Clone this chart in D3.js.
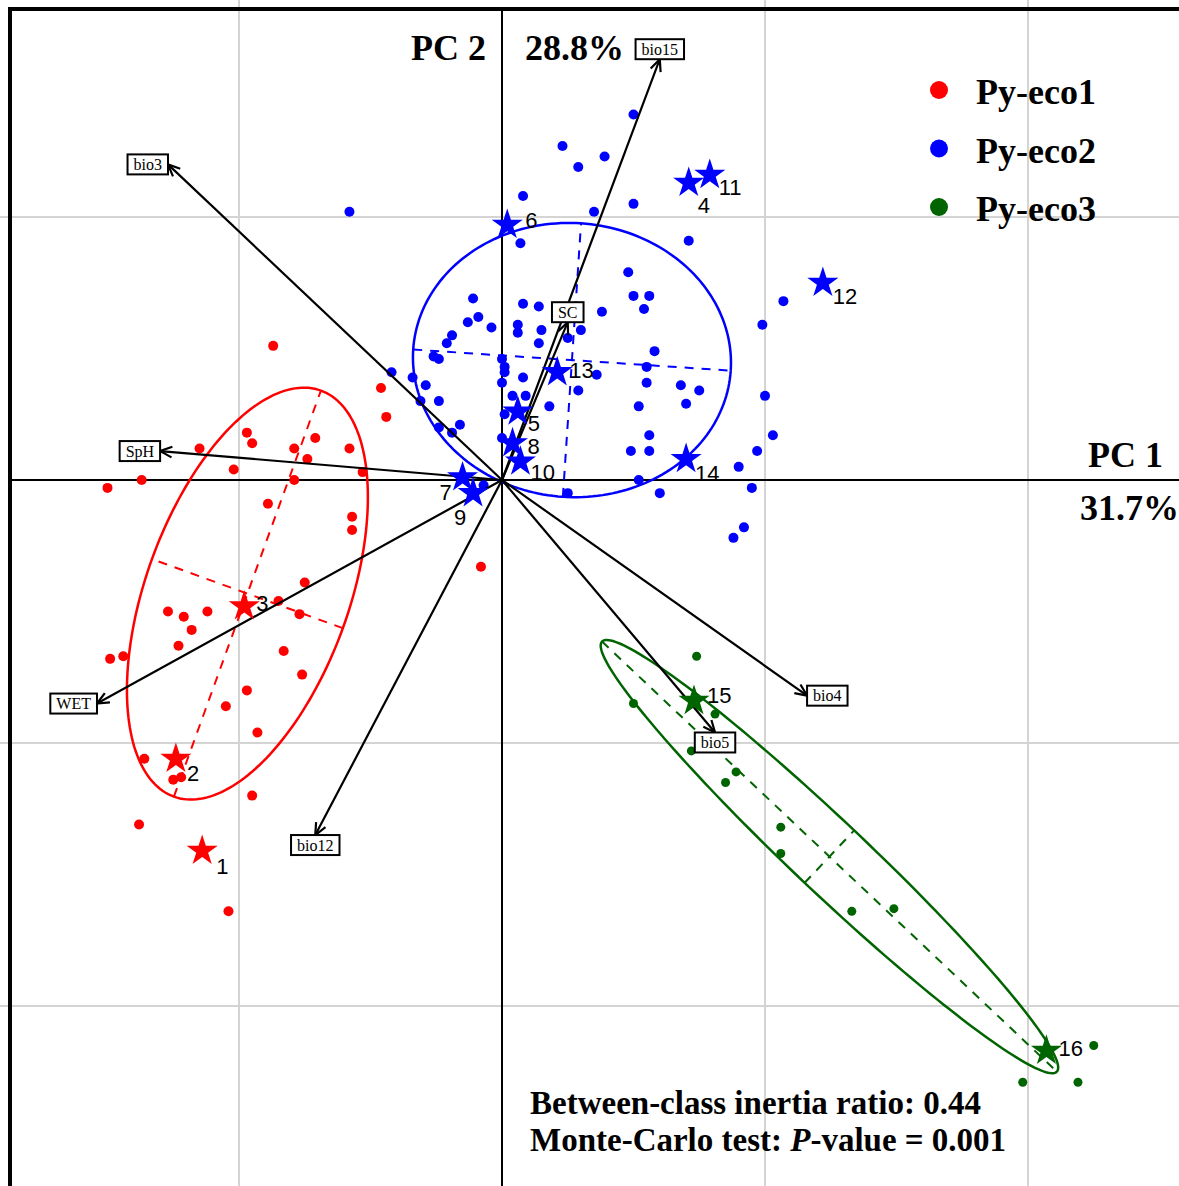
<!DOCTYPE html>
<html>
<head>
  <meta charset="utf-8">
  <title>Between-class PCA</title>
  <style>
    body { margin: 0; background: #fff; }
    svg { display: block; }
  </style>
</head>
<body>
  <svg width="1179" height="1186"></svg>
  <script src="https://d3js.org/d3.v7.min.js"></script>
  <script>
    // ---- data (PC scores, one grid step = 1 unit) ----
    var groups = ["Py-eco1", "Py-eco2", "Py-eco3"];
    var groupColors = ["#ff0000", "#0000ff", "#006400"];

    var eco1Pts = [[-0.44,0.24],[-0.97,0.18],[-0.95,0.14],[-0.71,0.16],[-0.79,0.12],[-0.58,0.12],[-1.15,0.12],
      [-0.74,0.08],[-1.02,0.04],[-0.53,0.03],[-0.79,0.00],[-1.37,0.00],[-1.50,-0.03],[-0.89,-0.09],[-0.57,-0.14],
      [-0.57,-0.19],[-0.75,-0.39],[-0.85,-0.46],[-0.77,-0.51],[-1.27,-0.50],[-1.21,-0.52],[-1.12,-0.50],[-1.18,-0.57],
      [-1.23,-0.63],[-0.83,-0.65],[-1.44,-0.67],[-1.49,-0.68],[-0.76,-0.74],[-0.97,-0.80],[-1.05,-0.86],[-0.93,-0.96],
      [-1.36,-1.06],[-1.25,-1.14],[-1.22,-1.13],[-0.87,0.51],[-0.46,0.35],[-0.95,-1.20],[-1.38,-1.31],[-1.04,-1.64],
      [-0.08,-0.33]];

    var eco2Pts = [[0.50,1.39],[0.23,1.27],[0.39,1.23],[0.29,1.19],[0.08,1.08],[0.35,1.02],[0.50,1.05],[0.07,0.90],
      [0.71,0.91],[0.48,0.79],[0.50,0.70],[0.56,0.70],[0.54,0.65],[1.07,0.68],[0.99,0.59],[-0.58,1.02],[-0.42,0.41],
      [-0.11,0.69],[0.08,0.67],[0.14,0.66],[-0.09,0.62],[-0.13,0.60],[-0.04,0.58],[0.06,0.59],[0.06,0.56],[0.15,0.57],
      [0.30,0.57],[0.38,0.64],[-0.19,0.55],[-0.21,0.52],[0.14,0.52],[0.25,0.54],[0.58,0.49],[-0.26,0.47],[-0.24,0.46],
      [0.00,0.46],[0.01,0.43],[0.01,0.41],[0.08,0.39],[0.00,0.37],[0.55,0.43],[0.36,0.40],[0.29,0.34],[0.55,0.37],
      [0.68,0.36],[0.75,0.34],[0.70,0.29],[0.52,0.28],[1.00,0.32],[-0.34,0.39],[-0.29,0.36],[-0.31,0.30],[-0.24,0.30],
      [0.18,0.28],[0.04,0.32],[0.09,0.32],[0.01,0.25],[-0.24,0.20],[-0.16,0.21],[-0.19,0.18],[0.00,0.16],[0.56,0.17],
      [0.49,0.11],[0.56,0.11],[1.03,0.17],[0.97,0.11],[0.90,0.05],[0.52,0.00],[0.60,-0.05],[0.25,-0.05],[0.95,-0.03],
      [-0.07,-0.02],[0.92,-0.18],[0.88,-0.22]];

    var eco3Pts = [[0.74,-0.67],[0.50,-0.85],[0.81,-0.89],[0.72,-1.03],[0.89,-1.11],[0.85,-1.15],[1.06,-1.32],
      [1.06,-1.42],[1.33,-1.64],[1.49,-1.63],[2.25,-2.15],[1.98,-2.29],[2.19,-2.29]];

    // numbered populations (stars)
    var popNames = ["1","2","3","4","5","6","7","8","9","10","11","12","13","14","15","16"];
    var popGroup = [0,0,0,1,1,1,1,1,1,1,1,1,1,1,2,2];
    var popX = [-1.14,-1.24,-0.98,0.71,0.06,0.02,-0.15,0.04,-0.11,0.07,0.79,1.22,0.21,0.70,0.73,2.07];
    var popY = [-1.41,-1.06,-0.48,1.13,0.26,0.97,0.01,0.14,-0.05,0.07,1.16,0.75,0.41,0.08,-0.84,-2.17];

    // class ellipses: centre, semi axes, angle of major axis (deg)
    var ellCx = [-0.968, 0.266, 1.245];
    var ellCy = [-0.432, 0.456, -1.432];
    var ellA = [0.821, 0.605, 1.19];
    var ellB = [0.386, 0.521, 0.137];
    var ellAngle = [70.1, -3.8, -43.4];

    // environmental variable arrows
    var varNames = ["bio15","bio3","SpH","WET","bio12","bio4","bio5","SC"];
    var varX = [0.60,-1.27,-1.30,-1.54,-0.71,1.16,0.81,0.25];
    var varY = [1.60,1.20,0.11,-0.85,-1.35,-0.82,-0.96,0.60];

    var gridX = [-1, 1, 2];
    var gridY = [-2, -1, 1];

    var svg = d3.select("svg"),
      width = +svg.attr("width"),
      height = +svg.attr("height");

    var x = d3.scaleLinear().domain([-1, 2]).range([239, 1028]);
    var y = d3.scaleLinear().domain([-2, 1]).range([1006, 217]);

    // grid
    svg.append("g").selectAll("line").data(gridX).enter().append("line")
      .attr("x1", x).attr("x2", x).attr("y1", 0).attr("y2", height)
      .attr("stroke", "#d4d4d4").attr("stroke-width", 2);
    svg.append("g").selectAll("line").data(gridY).enter().append("line")
      .attr("y1", y).attr("y2", y).attr("x1", 0).attr("x2", width)
      .attr("stroke", "#d4d4d4").attr("stroke-width", 2);

    // axes through origin
    svg.append("line").attr("x1", 10).attr("x2", width).attr("y1", y(0)).attr("y2", y(0))
      .attr("stroke", "#000").attr("stroke-width", 2);
    svg.append("line").attr("x1", x(0)).attr("x2", x(0)).attr("y1", 9).attr("y2", height)
      .attr("stroke", "#000").attr("stroke-width", 2);

    // frame (cut by the picture edge on right and bottom)
    svg.append("rect").attr("x", 10).attr("y", 9).attr("width", width + 20).attr("height", height + 20)
      .attr("fill", "none").attr("stroke", "#000").attr("stroke-width", 4);

    // ellipses with dashed axes
    var line = d3.line().x(function (d) { return x(d[0]); }).y(function (d) { return y(d[1]); });
    groups.forEach(function (g, i) {
      var th = ellAngle[i] * Math.PI / 180, c = Math.cos(th), s = Math.sin(th);
      var pts = d3.range(0, 201).map(function (k) {
        var t = k / 200 * 2 * Math.PI;
        var ex = ellA[i] * Math.cos(t), ey = ellB[i] * Math.sin(t);
        return [ellCx[i] + ex * c - ey * s, ellCy[i] + ex * s + ey * c];
      });
      svg.append("path").attr("d", line(pts)).attr("fill", "none")
        .attr("stroke", groupColors[i]).attr("stroke-width", 2.5);
      var ax = [
        [[ellCx[i] - ellA[i] * c, ellCy[i] - ellA[i] * s], [ellCx[i] + ellA[i] * c, ellCy[i] + ellA[i] * s]],
        [[ellCx[i] + ellB[i] * s, ellCy[i] - ellB[i] * c], [ellCx[i] - ellB[i] * s, ellCy[i] + ellB[i] * c]]
      ];
      ax.forEach(function (a) {
        svg.append("path").attr("d", line(a)).attr("fill", "none")
          .attr("stroke", groupColors[i]).attr("stroke-width", 2)
          .attr("stroke-dasharray", "9,8");
      });
    });

    // sample points
    [eco1Pts, eco2Pts, eco3Pts].forEach(function (pts, i) {
      svg.append("g").selectAll("circle").data(pts).enter().append("circle")
        .attr("cx", function (d) { return x(d[0]); })
        .attr("cy", function (d) { return y(d[1]); })
        .attr("r", i == 2 ? 4.5 : 5)
        .attr("fill", groupColors[i]);
    });

    // arrows
    var arrows = svg.append("g");
    varNames.forEach(function (name, i) {
      var x0 = x(0), y0 = y(0), x1 = x(varX[i]), y1 = y(varY[i]);
      var ang = Math.atan2(y1 - y0, x1 - x0), hl = 13, ha = 0.42;
      arrows.append("line").attr("x1", x0).attr("y1", y0).attr("x2", x1).attr("y2", y1)
        .attr("stroke", "#000").attr("stroke-width", 2.2);
      arrows.append("path")
        .attr("d", "M" + (x1 - hl * Math.cos(ang - ha)) + "," + (y1 - hl * Math.sin(ang - ha)) +
          "L" + x1 + "," + y1 +
          "L" + (x1 - hl * Math.cos(ang + ha)) + "," + (y1 - hl * Math.sin(ang + ha)))
        .attr("fill", "none").attr("stroke", "#000").attr("stroke-width", 2.2);
    });

    // stars for populations
    var star = d3.symbol().type(d3.symbolStar).size(300);
    svg.append("g").selectAll("path").data(popNames).enter().append("path")
      .attr("d", star)
      .attr("transform", function (d, i) { return "translate(" + x(popX[i]) + "," + y(popY[i]) + ")"; })
      .attr("fill", function (d, i) { return groupColors[popGroup[i]]; });

    // population number labels (offsets in px from the star)
    var labOff = {
      "1": [14, 23], "2": [11, 22], "3": [12, 5], "4": [9, 30], "5": [10, 19], "6": [18, 3],
      "7": [-23, 23], "8": [15, 11], "9": [-19, 32], "10": [10, 18], "11": [9, 20], "12": [10, 21],
      "13": [12, 6], "14": [9, 22], "15": [13, 2], "16": [12, 5]
    };
    svg.append("g").attr("font-family", "Liberation Sans, Arial, sans-serif").attr("font-size", 22)
      .selectAll("text").data(popNames).enter().append("text")
      .attr("x", function (d, i) { return x(popX[i]) + labOff[d][0]; })
      .attr("y", function (d, i) { return y(popY[i]) + labOff[d][1]; })
      .text(function (d) { return d; });

    // boxed labels of variables
    var boxes = svg.append("g").attr("font-family", "Liberation Serif, Times New Roman, serif").attr("font-size", 16);
    varNames.forEach(function (name, i) {
      var x1 = x(varX[i]), y1 = y(varY[i]);
      var dx = x1 - x(0), dy = y1 - y(0);
      var t = boxes.append("text").attr("text-anchor", "middle").attr("dy", "0.35em").text(name);
      var bw = t.node().getComputedTextLength() + 12, bh = 20;
      var cx = x1, cy = y1;
      if (Math.abs(dx) > Math.abs(dy)) cx += (dx > 0 ? 1 : -1) * bw / 2;
      else cy += (dy > 0 ? 1 : -1) * bh / 2;
      t.attr("x", cx).attr("y", cy);
      boxes.insert("rect", "text:last-child")
        .attr("x", cx - bw / 2).attr("y", cy - bh / 2).attr("width", bw).attr("height", bh)
        .attr("fill", "#fff").attr("stroke", "#000").attr("stroke-width", 2);
    });

    // axis titles
    var serif = "Liberation Serif, Times New Roman, serif";
    var titles = svg.append("g").attr("font-family", serif).attr("font-weight", "bold").attr("font-size", 36);
    titles.append("text").attr("x", 411).attr("y", 60).text("PC 2");
    titles.append("text").attr("x", 525).attr("y", 60).text("28.8%");
    titles.append("text").attr("x", 1088).attr("y", 467).text("PC 1");
    titles.append("text").attr("x", 1080).attr("y", 520).text("31.7%");

    // legend
    var legend = svg.append("g").selectAll("g").data(groups).enter().append("g")
      .attr("transform", function (d, i) { return "translate(939," + (90 + i * 58.5) + ")"; });
    legend.append("circle").attr("r", 9).attr("fill", function (d, i) { return groupColors[i]; });
    legend.append("text").attr("x", 37).attr("y", 14)
      .attr("font-family", serif).attr("font-weight", "bold").attr("font-size", 36)
      .text(function (d) { return d; });

    // test results
    var notes = svg.append("g").attr("font-family", serif).attr("font-weight", "bold").attr("font-size", 33);
    notes.append("text").attr("x", 530).attr("y", 1114).text("Between-class inertia ratio: 0.44");
    var n2 = notes.append("text").attr("x", 530).attr("y", 1151);
    n2.append("tspan").text("Monte-Carlo test: ");
    n2.append("tspan").attr("font-style", "italic").text("P");
    n2.append("tspan").text("-value = 0.001");
  </script>
</body>
</html>
